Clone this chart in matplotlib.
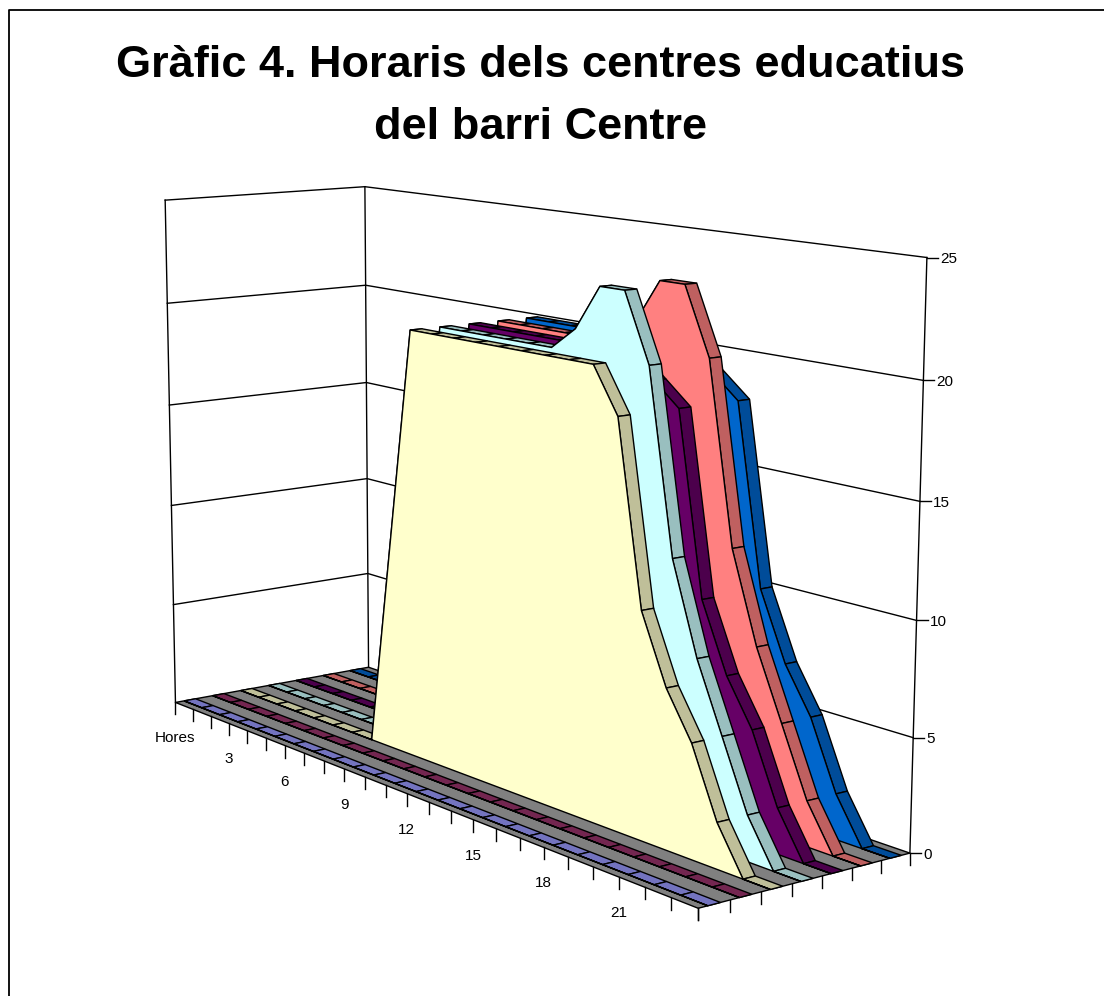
import numpy as np
import matplotlib
matplotlib.use("Agg")
import matplotlib.pyplot as plt

plt.rcParams['font.family'] = ['Liberation Sans', 'DejaVu Sans']

title_lines = ["Gràfic 4. Horaris dels centres educatius", "del barri Centre"]
hour_labels = ["Hores", "3", "6", "9", "12", "15", "18", "21"]
hour_label_pos = [0, 3, 6, 9, 12, 15, 18, 21]
value_ticks = [0, 5, 10, 15, 20, 25]
n_hours = 24

# one value per hour 0..24, front series first
s_zero = [0]*25
s_yellow = [0]*8 + [10] + [20]*9 + [18, 10, 7, 5, 2, 0, 0]
s_cyan = [0]*8 + [10] + [20]*6 + [21, 23, 23, 20, 12, 8, 5, 2, 0, 0]
s_purple = [0]*8 + [10] + [20]*8 + [19, 18, 10, 7, 5, 2, 0, 0]
s_salmon = [0]*8 + [10] + [20]*6 + [21, 23, 23, 20, 12, 8, 5, 2, 0, 0]
s_blue = [0]*8 + [10] + [20]*8 + [19, 18, 10, 7, 5, 2, 0, 0]
series = [s_zero, s_zero, s_yellow, s_cyan, s_purple, s_salmon, s_blue]
faces = ["#9999FF", "#993366", "#FFFFCC", "#CCFFFF", "#660066", "#FF8080", "#0066CC"]
sides = ["#7373BF", "#732650", "#BFBF99", "#99BFBF", "#4C004C", "#BF6060", "#004C99"]

# camera fitted to the box corners of the chart (hour, series depth, value) -> pixel
P = np.array([[15.79082, 30.01934, -0.62448, 175.4548],
              [0.78277, -0.62902, -20.35049, 702.45415],
              [-0.00858, 0.0066, -0.00129, 1.0]])


def proj(h, s, z):
    h, s, z = np.broadcast_arrays(h, s, z)
    v = P @ np.vstack([h, s, z, np.ones(len(h))])
    return v[0]/v[2], v[1]/v[2]


fig = plt.figure(figsize=(11.04, 9.96), dpi=100)
ax = fig.add_axes([0, 0, 1, 1])
ax.set_xlim(0, 1104)
ax.set_ylim(996, 0)
ax.axis("off")

ax.plot([1110, 8.5, 8.5], [9.5, 9.5, 1010], color="k", lw=1.3, zorder=1)
ax.text(541, 65, title_lines[0], ha="center", va="center", fontsize=32.5, fontweight="bold")
ax.text(541, 127, title_lines[1], ha="center", va="center", fontsize=32.5, fontweight="bold")

lw = 1.0
# walls and gridlines
for z in value_ticks:
    if z == 0:
        continue
    x, y = proj([0, 0, 24], [0, 7, 7], [z, z, z])
    ax.plot(x, y, color="k", lw=lw, zorder=1)
for h, s in [(0, 0), (0, 7), (24, 7)]:
    x, y = proj([h, h], [s, s], [0, 25])
    ax.plot(x, y, color="k", lw=lw, zorder=1)

# floor
x, y = proj([0, 24, 24, 0], [0, 0, 7, 7], 0)
ax.fill(x, y, fc="#808080", ec="k", lw=lw, zorder=1)

# axis ticks and labels
for h in range(n_hours + 1):
    x, y = proj([h], [0], [0])
    ax.plot([x[0], x[0]], [y[0], y[0] + 12], color="k", lw=lw, zorder=1)
for s in range(8):
    x, y = proj([24], [s], [0])
    ax.plot([x[0], x[0]], [y[0], y[0] + 12], color="k", lw=lw, zorder=1)
for h, lab in zip(hour_label_pos, hour_labels):
    x, y = proj([h], [0], [0])
    ax.text(x[0], y[0] + 36, lab, ha="center", va="center", fontsize=11)
for z in value_ticks:
    x, y = proj([24], [7], [z])
    ax.plot([x[0], x[0] + 11], [y[0], y[0]], color="k", lw=lw, zorder=1)
    ax.text(x[0] + 13, y[0] + 1.5, str(z), ha="left", va="center", fontsize=11)

# series from back to front, each one as a ribbon and a front face
hours = np.arange(n_hours + 1)
for i in range(len(series) - 1, -1, -1):
    vals = np.array(series[i], float)
    s0, s1 = i + 0.3, i + 0.7
    for k in range(n_hours):
        x, y = proj([hours[k], hours[k+1], hours[k+1], hours[k]], [s0, s0, s1, s1],
                    [vals[k], vals[k+1], vals[k+1], vals[k]])
        ax.fill(x, y, fc=sides[i], ec="k", lw=lw, zorder=1)
    x, y = proj(hours, s0, vals)
    ax.fill(x, y, fc=faces[i], ec="k", lw=lw, zorder=1)

fig.savefig("out.png", dpi=100)
